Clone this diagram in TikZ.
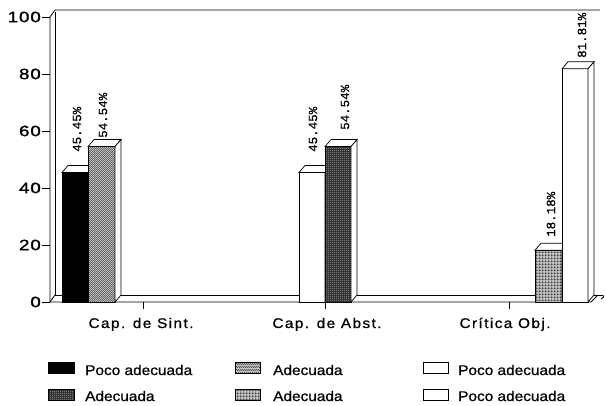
\documentclass[tikz,border=0pt]{standalone}
\usepackage{fontspec}
\usetikzlibrary{patterns.meta}
\newfontfamily\axf[FakeStretch=1.1,LetterSpace=10,FakeBold=0.8]{Liberation Sans}
\newfontfamily\legf[FakeStretch=1.1,FakeBold=0.8]{Liberation Sans}
\newfontfamily\tickf[FakeStretch=1.25,LetterSpace=6,FakeBold=1.5]{Liberation Sans}
\newfontfamily\valf[FakeBold=0.6]{Liberation Mono}
\tikzdeclarepattern{name=lighthatch,type=uncolored,
  bounding box={(0pt,0pt) and (2.4pt,2.4pt)},tile size={(2.4pt,2.4pt)},
  code={\draw[line width=0.55pt] (0pt,2.4pt)--(2.4pt,0pt);}}
\tikzdeclarepattern{name=darkspeck,type=uncolored,
  bounding box={(0pt,0pt) and (2pt,2pt)},tile size={(2pt,2pt)},
  code={\fill (0pt,0pt) rectangle (0.8pt,0.8pt);}}
\tikzdeclarepattern{name=finegrid,type=uncolored,
  bounding box={(0pt,0pt) and (2.6pt,2.6pt)},tile size={(2.6pt,2.6pt)},
  code={\draw[line width=0.8pt] (0pt,0pt)--(2.6pt,0pt) (0pt,0pt)--(0pt,2.6pt);}}
\tikzset{
  frameline/.style={line width=0.8pt,black},
  barline/.style={line width=0.7pt,black},
  solidblack/.style={fill=black},
  hatchfill/.style={preaction={fill=gray!45},pattern=lighthatch,pattern color=black!80},
  darkfill/.style={preaction={fill=black!80},pattern=darkspeck,pattern color=white!70!gray},
  gridfill/.style={preaction={fill=gray!50},pattern=finegrid,pattern color=black},
  whitefill/.style={fill=white},
  ticklab/.style={anchor=east,inner sep=0pt,font=\tickf\fontsize{15pt}{17pt}\selectfont},
  axlab/.style={anchor=base,inner sep=0pt,font=\axf\fontsize{14pt}{16pt}\selectfont},
  leglab/.style={anchor=base west,inner sep=0pt,font=\legf\fontsize{14pt}{16pt}\selectfont},
  vallab/.style={anchor=west,rotate=90,inner sep=0pt,font=\valf\fontsize{12.5pt}{14pt}\selectfont},
  legbox/.style={barline}
}
\newcommand{\bardraw}[5]{%
  \pgfmathsetmacro\bt{302-2.85*#3}%
  \draw[barline,#4] (#1,302) rectangle (#2,\bt);
  \draw[barline,fill=white] (#1,\bt) -- (#1+6,\bt-7) -- (#2+6,\bt-7) -- (#2,\bt) -- cycle;
  \draw[barline,fill=white] (#2,\bt) -- (#2+6,\bt-7) -- (#2+6,295) -- (#2,302) -- cycle;
  \coordinate (#5) at ({(#1+#2)/2},\bt);
}
\begin{document}
\begin{tikzpicture}[x=1pt,y=-1pt]
\useasboundingbox (0,0) rectangle (606,405);
% frame
\draw[frameline] (50,302) -- (50,17) -- (55,10) -- (600,10);
\draw[frameline] (55,12) -- (55,295);
\draw[frameline] (50,302) -- (55,295);
\draw[frameline] (55,295) -- (603,295);
\draw[frameline] (50,302) -- (591,302) -- (598,295);
\draw[frameline] (603,295) .. controls (604,297) .. (601,299);
% y ticks
\foreach \v in {0,20,40,60,80,100}{
  \draw[frameline] (42,{302-2.85*\v}) -- (50,{302-2.85*\v});
  \node[ticklab] (t\v) at (41,{302-2.85*\v}) {\v};
}
% x ticks
\draw[frameline] (143,302) -- (143,309);
\draw[frameline] (325,302) -- (325,309);
\draw[frameline] (509,302) -- (509,309);
\node[axlab] (xa) at (141,328) {Cap. de Sint.};
\node[axlab] (xb) at (327,328) {Cap. de Abst.};
\node[axlab] (xc) at (505,328) {Crítica Obj.};
% bars
\bardraw{62}{88}{45.45}{solidblack}{b1}
\bardraw{88}{115}{54.54}{hatchfill}{b2}
\bardraw{299}{325}{45.45}{whitefill}{b3}
\bardraw{325}{351}{54.54}{darkfill}{b4}
\bardraw{535}{562}{18.18}{gridfill}{b5}
\bardraw{562}{588}{81.81}{whitefill}{b6}
% value labels
\node[vallab] (v1) at (77,152) {45.45\%};
\node[vallab] (v2) at (103,138) {54.54\%};
\node[vallab] (v3) at (313,152) {45.45\%};
\node[vallab] (v4) at (345,130) {54.54\%};
\node[vallab] (v5) at (551,237) {18.18\%};
\node[vallab] (v6) at (582,58) {81.81\%};
% legend
\draw[legbox,solidblack] (48,362) rectangle (74,373);
\node[leglab] (l1) at (85,375) {Poco adecuada};
\draw[legbox,darkfill] (48,389) rectangle (74,400);
\node[leglab] (l2) at (85,401) {Adecuada};
\draw[legbox,hatchfill] (235,362) rectangle (260,373);
\node[leglab] (l3) at (273,375) {Adecuada};
\draw[legbox,gridfill] (235,389) rectangle (260,400);
\node[leglab] (l4) at (273,401) {Adecuada};
\draw[legbox,whitefill] (423,362) rectangle (448,373);
\node[leglab] (l5) at (458,375) {Poco adecuada};
\draw[legbox,whitefill] (423,389) rectangle (448,400);
\node[leglab] (l6) at (458,401) {Poco adecuada};
\end{tikzpicture}
\end{document}
